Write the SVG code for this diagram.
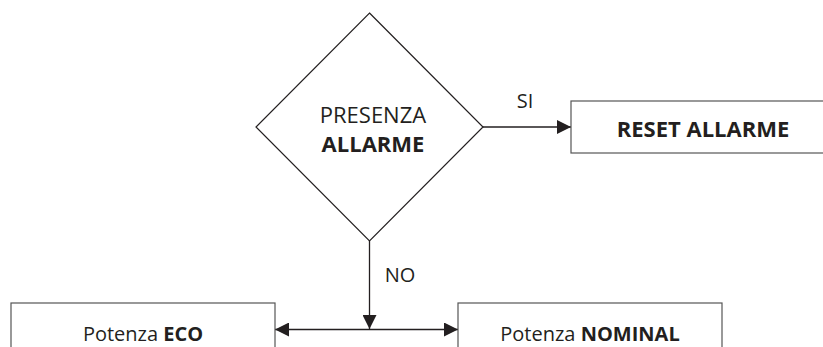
<svg xmlns="http://www.w3.org/2000/svg" width="823" height="347" viewBox="0 0 823 347">
<style>
.shape{fill:#fff;stroke:#231f20;stroke-width:1.2}
.box{fill:#fff;stroke:#555;stroke-width:1.2}
.line{fill:none;stroke:#231f20;stroke-width:1.3}
text{font-family:"Open Sans","Liberation Sans",sans-serif;font-size:20px;fill:#231f20;text-anchor:middle}
.caps{font-size:22px}
.b{font-weight:bold}
</style>
<defs>
<marker id="arr" markerUnits="userSpaceOnUse" markerWidth="14" markerHeight="14" refX="14" refY="7" orient="auto-start-reverse">
<path d="M0,0 L14,7 L0,14 Z" fill="#231f20"/>
</marker>
</defs>
<g id="connectors">
<line class="line" x1="483" y1="127" x2="571" y2="127" marker-end="url(#arr)"/>
<line class="line" x1="369.5" y1="241" x2="369.5" y2="329" marker-end="url(#arr)"/>
<line class="line" x1="275" y1="329.5" x2="458" y2="329.5" marker-start="url(#arr)" marker-end="url(#arr)"/>
<text x="525" y="108" font-size="21">SI</text>
<text x="400" y="282" font-size="21">NO</text>
</g>
<g id="decision">
<polygon class="shape" points="369.5,13 483,127 369.5,241 256,127"/>
<text x="373" y="123" class="caps">PRESENZA</text>
<text x="373" y="152" class="caps b">ALLARME</text>
</g>
<g id="reset">
<rect class="box" x="571" y="101" width="264" height="52"/>
<text x="703" y="137" class="caps b">RESET ALLARME</text>
</g>
<g id="eco">
<rect class="box" x="11" y="303" width="264" height="60"/>
<text x="143" y="341">Potenza <tspan class="b">ECO</tspan></text>
</g>
<g id="nominal">
<rect class="box" x="458" y="303" width="264" height="60"/>
<text x="590" y="341">Potenza <tspan class="b">NOMINAL</tspan></text>
</g>
</svg>
